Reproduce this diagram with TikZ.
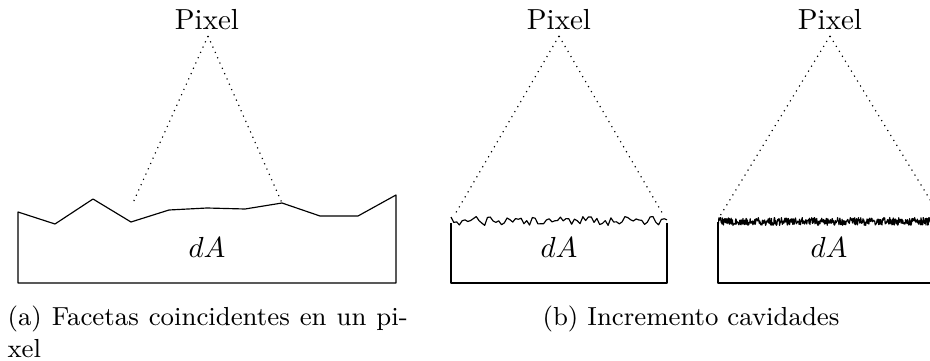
\documentclass[tikz,border=0pt]{standalone}
\begin{document}
\begin{tikzpicture}[x=0.34483pt,y=-0.34483pt,
  surf/.style={draw=black,line width=0.4pt,line join=round},
  ray/.style={line width=0.4pt,dash pattern=on 0.4pt off 1.6pt},
  lbl/.style={inner sep=0pt,anchor=base},
  capt/.style={inner sep=0pt,font=\small}]
\useasboundingbox (0,0) rectangle (930,361);
\pgfmathsetseed{4711}
% ---------- (a) ----------
\node[lbl] (pa) at (207,29) {Pixel};
\coordinate (apexa) at (208,36);
\coordinate (fa1) at (132,205);
\coordinate (fa2) at (282,203);
\draw[surf] (18,283) -- (18,212) -- (55,224) -- (93,199) -- (131,222) -- (169,210)
  -- (207,208) -- (245,209) -- (282,203) -- (320,216) -- (358,216) -- (396,195) -- (396,283) -- cycle;
\draw[ray] (apexa) -- (fa1);
\draw[ray] (apexa) -- (fa2);
\node[lbl] (dAa) at (207,257) {$dA$};
\node[capt,align=left,anchor=north west] (capa) at (7,305)
  {\makebox[138pt][s]{(a) Facetas coincidentes en un pi-}\\xel};
% ---------- (b) middle ----------
\node[lbl] (pb) at (559,29) {Pixel};
\coordinate (apexb) at (559,36);
\coordinate (fb1) at (454,216);
\coordinate (fb2) at (664,216);
\draw[surf] plot[domain=451:667,samples=78] (\x,{221+4.5*rand});
\draw[surf] (451,223) -- (451,283) -- (667,283) -- (667,223);
\draw[ray] (apexb) -- (fb1);
\draw[ray] (apexb) -- (fb2);
\node[lbl] (dAb) at (559,257) {$dA$};
% ---------- (b) right ----------
\node[lbl] (pc) at (830,29) {Pixel};
\coordinate (apexc) at (830,36);
\coordinate (fc1) at (720,216);
\coordinate (fc2) at (940,216);
\draw[surf] plot[domain=718:935,samples=480] (\x,{221.5+4*rand});
\draw[surf] (718,222) -- (718,283) -- (935,283);
\draw[ray] (apexc) -- (fc1);
\draw[ray] (apexc) -- (fc2);
\node[lbl] (dAc) at (829,257) {$dA$};
\node[capt,anchor=north] (capb) at (691,305) {(b) Incremento cavidades};
\end{tikzpicture}
\end{document}
